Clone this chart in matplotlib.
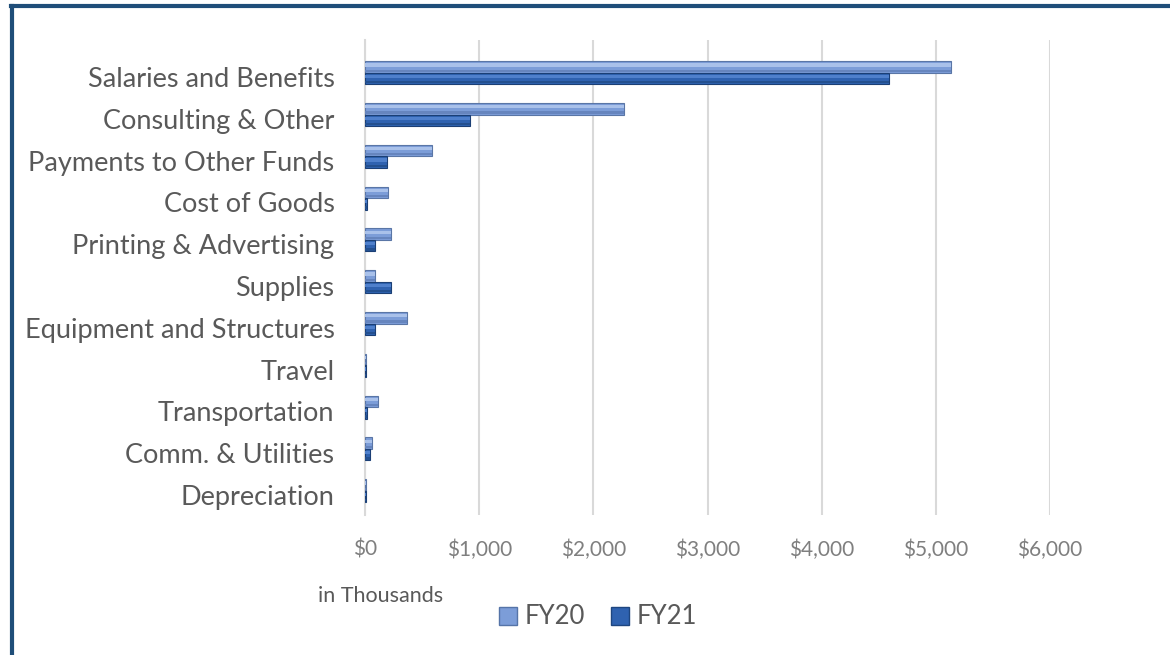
import matplotlib
matplotlib.use("Agg")
import matplotlib.pyplot as plt
from matplotlib.lines import Line2D
from matplotlib.patches import Patch
import numpy as np

categories = ["Salaries and Benefits", "Consulting & Other", "Payments to Other Funds",
              "Cost of Goods", "Printing & Advertising", "Supplies",
              "Equipment and Structures", "Travel", "Transportation",
              "Comm. & Utilities", "Depreciation"]
fy20 = [5130, 2270, 590, 200, 230, 90, 370, 12, 110, 60, 10]
fy21 = [4590, 920, 190, 15, 90, 230, 90, 12, 20, 40, 10]
ticks = [0, 1000, 2000, 3000, 4000, 5000, 6000]
tick_labels = ["$0", "$1,000", "$2,000", "$3,000", "$4,000", "$5,000", "$6,000"]

plt.rcParams['font.family'] = ['Lato', 'DejaVu Sans']
W, H = 1170, 655
fig = plt.figure(figsize=(W/100, H/100), dpi=100)
ax = fig.add_axes([365/W, 1-515/H, (1050-365)/W, (515-40)/H])

y = np.arange(len(categories))
bh = 0.275
off = -0.1
c20, c21 = "#7C9DD8", "#2F62B0"
y20 = y + off - bh/2
y21 = y + off + bh/2
ax.barh(y20, fy20, height=bh, color=c20, edgecolor="#5A76A6", linewidth=0.8, zorder=3)
ax.barh(y20 - bh*0.18, fy20, height=bh*0.28, color="#A9C1EA", linewidth=0, zorder=4)
ax.barh(y20 + bh*0.32, fy20, height=bh*0.2, color="#6685BE", linewidth=0, zorder=4)
ax.barh(y21, fy21, height=bh, color=c21, edgecolor="#1B3F75", linewidth=0.8, zorder=3)
ax.barh(y21 - bh*0.18, fy21, height=bh*0.28, color="#4F80CC", linewidth=0, zorder=4)
ax.barh(y21 + bh*0.32, fy21, height=bh*0.2, color="#24508F", linewidth=0, zorder=4)

ax.set_xlim(0, 6000)
ax.set_ylim(10.48, -0.885)
ax.set_xticks(ticks)
ax.set_xticklabels(tick_labels, fontsize=15, color="#7F7F7F")
ax.set_yticks(y)
ax.set_yticklabels(categories, fontsize=19.5, color="#595959")
ax.tick_params(axis='y', length=0, pad=22)
ax.tick_params(axis='x', length=0, pad=18)
ax.xaxis.grid(True, color="#D9D9D9", linewidth=1.5, zorder=0)
for s in ["top", "right", "bottom"]:
    ax.spines[s].set_visible(False)
ax.spines["left"].set_color("#D9D9D9")
ax.spines["left"].set_linewidth(1.5)

fig.text(318/W, 1-596/H, "in Thousands", fontsize=15.5, color="#595959", va="center", ha="left")
handles = [Patch(facecolor=c20, edgecolor="#5574A8"), Patch(facecolor=c21, edgecolor="#1E4680")]
fig.legend(handles, ["FY20", "FY21"], loc="center", bbox_to_anchor=(598/W, 1-617/H),
           ncol=2, frameon=False, fontsize=18.5, labelcolor="#595959",
           handlelength=0.7, handleheight=0.7, handletextpad=0.3, columnspacing=1.0)

# border
fig.add_artist(Line2D([11/W, 1], [1-5.5/H, 1-5.5/H], color="#1F4E79", linewidth=3, transform=fig.transFigure))
fig.add_artist(Line2D([11.5/W, 11.5/W], [0, 1-5.5/H], color="#1F4E79", linewidth=3, transform=fig.transFigure))

fig.savefig("out.png", dpi=100)
